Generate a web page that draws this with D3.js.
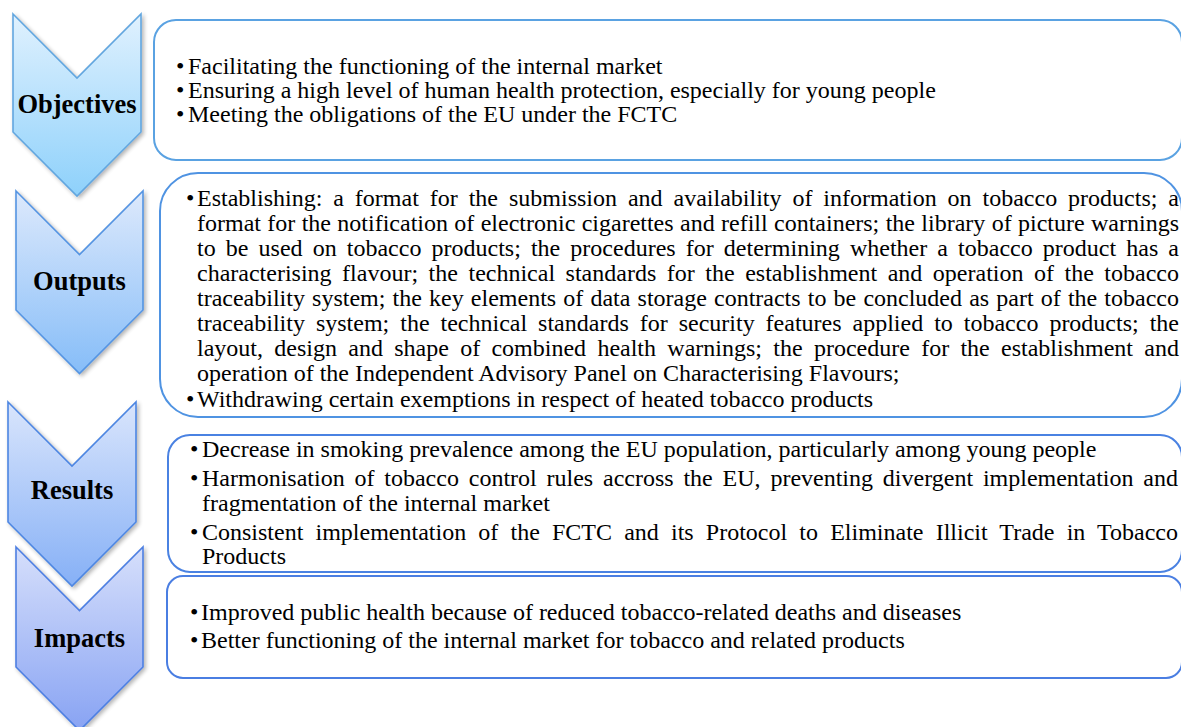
<!DOCTYPE html>
<html>
<head>
<meta charset="utf-8">
<script src="https://cdn.jsdelivr.net/npm/d3@7"></script>
<style>
  html, body { margin: 0; padding: 0; background: #ffffff; }
  svg { display: block; }
</style>
</head>
<body>
<svg id="chart" width="1181" height="727"></svg>
<script>
// ---------------- DATA ----------------
const stages = ["Objectives", "Outputs", "Results", "Impacts"];

// each item = one bullet, given as the lines it wraps to
const objectivesItems = [
  ["Facilitating the functioning of the internal market"],
  ["Ensuring a high level of human health protection, especially for young people"],
  ["Meeting the obligations of the EU under the FCTC"]
];
const outputsItems = [
  [
    "Establishing: a format for the submission and availability of information on tobacco products; a",
    "format for the notification of electronic cigarettes and refill containers; the library of picture warnings",
    "to be used on tobacco products; the procedures for determining whether a tobacco product has a",
    "characterising flavour; the technical standards for the establishment and operation of the tobacco",
    "traceability system; the key elements of data storage contracts to be concluded as part of the tobacco",
    "traceability system; the technical standards for security features applied to tobacco products; the",
    "layout, design and shape of combined health warnings; the procedure for the establishment and",
    "operation of the Independent Advisory Panel on Characterising Flavours;"
  ],
  ["Withdrawing certain exemptions in respect of heated tobacco products"]
];
const resultsItems = [
  ["Decrease in smoking prevalence among the EU population, particularly among young people"],
  [
    "Harmonisation of tobacco control rules accross the EU, preventing divergent implementation and",
    "fragmentation of the internal market"
  ],
  [
    "Consistent implementation of the FCTC and its Protocol to Eliminate Illicit Trade in Tobacco",
    "Products"
  ]
];
const impactsItems = [
  ["Improved public health because of reduced tobacco-related deaths and diseases"],
  ["Better functioning of the internal market for tobacco and related products"]
];
const itemsByStage = [objectivesItems, outputsItems, resultsItems, impactsItems];
const justifiedByStage = [false, true, true, false];

// ---------------- LAYOUT ----------------
const chevronLayout = [
  { x0: 13, x1: 141, top: 14,  sideBottom: 132, labelBase: 113, top0: "#e0f1fe", bot: "#8ed1fb", stroke: "#62a6df" },
  { x0: 16, x1: 143, top: 191, sideBottom: 310, labelBase: 290, top0: "#dde9fc", bot: "#86bdf8", stroke: "#5494e2" },
  { x0: 8,  x1: 136, top: 402, sideBottom: 522, labelBase: 499, top0: "#d9e5fc", bot: "#86b0f6", stroke: "#4d86e2" },
  { x0: 16, x1: 143, top: 547, sideBottom: 667, labelBase: 647, top0: "#d6dffb", bot: "#88a3f3", stroke: "#4d7fe2" }
];
const boxLayout = [
  { x: 154, y: 20,  right: 1182, bottom: 160, r: 22, stroke: "#5aa2e2", bulletX: 176, textX: 188, rightX: 1178, base: 74,    lineH: 24,   paraGap: 0 },
  { x: 160, y: 173, right: 1182, bottom: 417, r: 38, stroke: "#4f93e2", bulletX: 186, textX: 197, rightX: 1179, base: 206,   lineH: 25,   paraGap: 0.5 },
  { x: 168, y: 435, right: 1182, bottom: 572, r: 22, stroke: "#4a82e2", bulletX: 190, textX: 202, rightX: 1178, base: 457,   lineH: 24.5, paraGap: 4.5 },
  { x: 167, y: 576, right: 1182, bottom: 678, r: 16, stroke: "#4a7ee2", bulletX: 190, textX: 201, rightX: 1178, base: 620,   lineH: 24,   paraGap: 4 }
];
const bodyFont = 24;
const labelFont = 26.5;

// pick the first installed serif face (Times-metric first)
function pickFont(cands) {
  const ctx = document.createElement("canvas").getContext("2d");
  const probe = "Facilitating the functioning WMQ 0123";
  for (const c of cands) {
    let ok = false;
    for (const fb of ["monospace", "sans-serif"]) {
      ctx.font = `40px ${fb}`;
      const w0 = ctx.measureText(probe).width;
      ctx.font = `40px "${c}", ${fb}`;
      if (Math.abs(ctx.measureText(probe).width - w0) > 0.5) ok = true;
    }
    if (ok) return `"${c}", serif`;
  }
  return "serif";
}
const serifFamily = pickFont(["Liberation Serif", "Times New Roman", "Tinos", "Nimbus Roman", "DejaVu Serif"]);

// ---------------- DRAW ----------------
const svg = d3.select("#chart");
const defs = svg.append("defs");

const shadow = defs.append("filter").attr("id", "shadow")
  .attr("x", "-20%").attr("y", "-20%").attr("width", "150%").attr("height", "150%");
shadow.append("feGaussianBlur").attr("in", "SourceAlpha").attr("stdDeviation", 2.2).attr("result", "blur");
shadow.append("feOffset").attr("in", "blur").attr("dx", 1.5).attr("dy", 2).attr("result", "off");
shadow.append("feComponentTransfer").attr("in", "off").attr("result", "soft")
  .append("feFuncA").attr("type", "linear").attr("slope", 0.3);
const merge = shadow.append("feMerge");
merge.append("feMergeNode").attr("in", "soft");
merge.append("feMergeNode").attr("in", "SourceGraphic");

chevronLayout.forEach((c, i) => {
  const g = defs.append("linearGradient").attr("id", "grad" + i)
    .attr("x1", 0).attr("y1", 0).attr("x2", 0).attr("y2", 1);
  g.append("stop").attr("offset", "0%").attr("stop-color", c.top0);
  g.append("stop").attr("offset", "100%").attr("stop-color", c.bot);
});

function chevronPath(c) {
  const half = (c.x1 - c.x0) / 2;
  const mid = c.x0 + half;
  const p = d3.path();
  p.moveTo(c.x0, c.top);
  p.lineTo(mid, c.top + half);
  p.lineTo(c.x1, c.top);
  p.lineTo(c.x1, c.sideBottom);
  p.lineTo(mid, c.sideBottom + half);
  p.lineTo(c.x0, c.sideBottom);
  p.closePath();
  return p.toString();
}

// Chevrons
const chev = svg.append("g").selectAll("g.chev")
  .data(stages.map((s, i) => ({ label: s, lay: chevronLayout[i], i })))
  .join("g").attr("class", "chev");

chev.append("path")
  .attr("d", d => chevronPath(d.lay))
  .attr("fill", d => `url(#grad${d.i})`)
  .attr("stroke", d => d.lay.stroke)
  .attr("stroke-width", 1.6)
  .attr("stroke-linejoin", "miter")
  .attr("filter", "url(#shadow)");

chev.append("text")
  .attr("x", d => (d.lay.x0 + d.lay.x1) / 2)
  .attr("y", d => d.lay.labelBase)
  .attr("text-anchor", "middle")
  .attr("font-family", serifFamily)
  .attr("font-size", labelFont)
  .attr("font-weight", "bold")
  .attr("fill", "#000")
  .text(d => d.label);

// Boxes
const boxes = svg.append("g").selectAll("g.box")
  .data(stages.map((s, i) => ({ items: itemsByStage[i], lay: boxLayout[i], justify: justifiedByStage[i] })))
  .join("g").attr("class", "box");

boxes.append("rect")
  .attr("x", d => d.lay.x)
  .attr("y", d => d.lay.y)
  .attr("width", d => d.lay.right - d.lay.x)
  .attr("height", d => d.lay.bottom - d.lay.y)
  .attr("rx", d => d.lay.r).attr("ry", d => d.lay.r)
  .attr("fill", "#ffffff")
  .attr("stroke", d => d.lay.stroke)
  .attr("stroke-width", 2);

boxes.each(function (d) {
  const g = d3.select(this);
  const L = d.lay;
  let y = L.base;
  d.items.forEach((lines, pi) => {
    if (pi > 0) y += L.paraGap;
    g.append("text")
      .attr("x", L.bulletX).attr("y", y)
      .attr("font-family", serifFamily)
      .attr("font-size", bodyFont).attr("fill", "#000")
      .text("\u2022");
    lines.forEach((line, li) => {
      const t = g.append("text")
        .attr("x", L.textX).attr("y", y)
        .attr("font-family", serifFamily)
        .attr("font-size", bodyFont).attr("fill", "#000")
        .style("white-space", "pre")
        .text(line);
      const isLast = li === lines.length - 1;
      if (d.justify && !isLast) {
        const natural = t.node().getComputedTextLength();
        const spaces = (line.match(/ /g) || []).length;
        const extra = (L.rightX - L.textX - natural) / Math.max(spaces, 1);
        t.attr("word-spacing", extra.toFixed(3));
      }
      y += L.lineH;
    });
  });
});
</script>
</body>
</html>
